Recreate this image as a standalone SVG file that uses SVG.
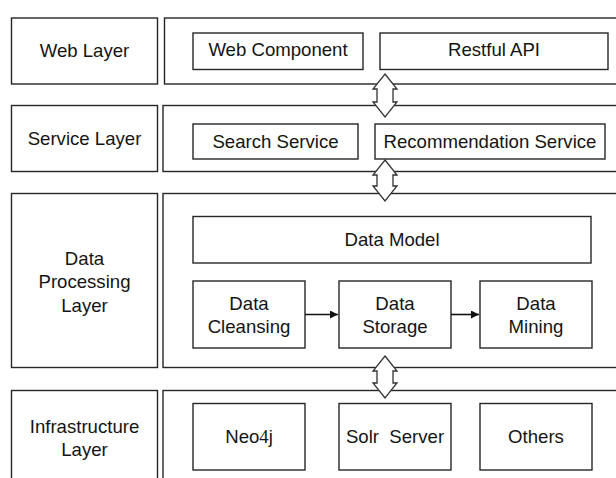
<svg xmlns="http://www.w3.org/2000/svg" width="616" height="478" viewBox="0 0 616 478">
  <style>
    .box { fill: #ffffff; stroke: #262626; stroke-width: 1.4; }
    .lbl { font-family: "Liberation Sans", Arial, sans-serif; font-size: 18.6px; fill: #141414; text-anchor: middle; }
    .serif { font-family: "Liberation Serif", "Times New Roman", serif; }
    .flow { stroke: #111111; stroke-width: 1.6; fill: none; marker-end: url(#tip); }
    .dbl { fill: #ffffff; stroke: #333333; stroke-width: 1.3; stroke-linejoin: miter; }
  </style>
  <defs>
    <marker id="tip" viewBox="0 0 10 10" refX="10" refY="5" markerWidth="5" markerHeight="5" orient="auto" markerUnits="strokeWidth">
      <path d="M0,0 L10,5 L0,10 z" fill="#111111"/>
    </marker>
  </defs>
  <rect width="616" height="478" fill="#ffffff"/>

  <!-- Web layer -->
  <g id="web-layer">
    <rect class="box" x="11.5" y="18" width="146" height="66"/>
    <text class="lbl" x="84.5" y="57">Web Layer</text>
  </g>
  <g id="web-container">
    <rect class="box" x="164.5" y="18" width="460" height="66"/>
  </g>
  <g id="web-component">
    <rect class="box" x="193" y="33" width="170" height="36.5"/>
    <text class="lbl" x="278" y="55.5">Web Component</text>
  </g>
  <g id="restful-api">
    <rect class="box" x="380" y="33" width="228" height="36.5"/>
    <text class="lbl" x="494" y="55.5">Restful API</text>
  </g>

  <!-- Service layer -->
  <g id="service-layer">
    <rect class="box" x="11.5" y="105.5" width="146" height="66"/>
    <text class="lbl" x="84.5" y="145">Service Layer</text>
  </g>
  <g id="service-container">
    <rect class="box" x="163" y="105.5" width="460" height="66"/>
  </g>
  <g id="search-service">
    <rect class="box" x="193" y="124" width="165" height="35"/>
    <text class="lbl" x="275.5" y="147.5">Search Service</text>
  </g>
  <g id="recommendation-service">
    <rect class="box" x="375" y="124" width="230" height="35"/>
    <text class="lbl" x="490" y="147.5">Recommendation Service</text>
  </g>

  <!-- Data processing layer -->
  <g id="data-processing-layer">
    <rect class="box" x="11.5" y="193.5" width="146" height="174"/>
    <text class="lbl" x="84.5" y="264.5">Data</text>
    <text class="lbl" x="84.5" y="288">Processing</text>
    <text class="lbl" x="84.5" y="311.5">Layer</text>
  </g>
  <g id="data-container">
    <rect class="box" x="163" y="193.5" width="460" height="174"/>
  </g>
  <g id="data-model">
    <rect class="box" x="193" y="216.5" width="398" height="46.5"/>
    <text class="lbl" x="392" y="246">Data Model</text>
  </g>
  <g id="data-cleansing">
    <rect class="box" x="193" y="281" width="112" height="67"/>
    <text class="lbl" x="249" y="310">Data</text>
    <text class="lbl" x="249" y="333">Cleansing</text>
  </g>
  <g id="data-storage">
    <rect class="box" x="339" y="281" width="112" height="67"/>
    <text class="lbl" x="395" y="310">Data</text>
    <text class="lbl" x="395" y="333">Storage</text>
  </g>
  <g id="data-mining">
    <rect class="box" x="480" y="281" width="112" height="67"/>
    <text class="lbl" x="536" y="310">Data</text>
    <text class="lbl" x="536" y="333">Mining</text>
  </g>

  <!-- Infrastructure layer -->
  <g id="infrastructure-layer">
    <rect class="box" x="11.5" y="390.5" width="146" height="100"/>
    <text class="lbl" x="84.5" y="433">Infrastructure</text>
    <text class="lbl" x="84.5" y="456">Layer</text>
  </g>
  <g id="infrastructure-container">
    <rect class="box" x="163" y="390.5" width="460" height="100"/>
  </g>
  <g id="neo4j">
    <rect class="box" x="193" y="403.5" width="112" height="66.5"/>
    <text class="lbl" x="249" y="443">Neo<tspan class="serif">4</tspan>j</text>
  </g>
  <g id="solr-server">
    <rect class="box" x="339" y="403.5" width="112" height="66.5"/>
    <text class="lbl" x="395" y="443" xml:space="preserve">Solr  Server</text>
  </g>
  <g id="others">
    <rect class="box" x="480" y="403.5" width="112" height="66.5"/>
    <text class="lbl" x="536" y="443">Others</text>
  </g>

  <!-- Connectors: flow arrows and hollow two-way arrows between layers -->
  <g id="connectors">
    <line class="flow" x1="305" y1="314.5" x2="338" y2="314.5"/>
    <line class="flow" x1="451" y1="314.5" x2="479" y2="314.5"/>
    <polygon class="dbl" points="385,74 397,89 393,89 393,102 397,102 385,117 373,102 377,102 377,89 373,89"/>
    <polygon class="dbl" points="385,160 397,175 393,175 393,186 397,186 385,201 373,186 377,186 377,175 373,175"/>
    <polygon class="dbl" points="385,356 397,371 393,371 393,383 397,383 385,398 373,383 377,383 377,371 373,371"/>
  </g>
</svg>
